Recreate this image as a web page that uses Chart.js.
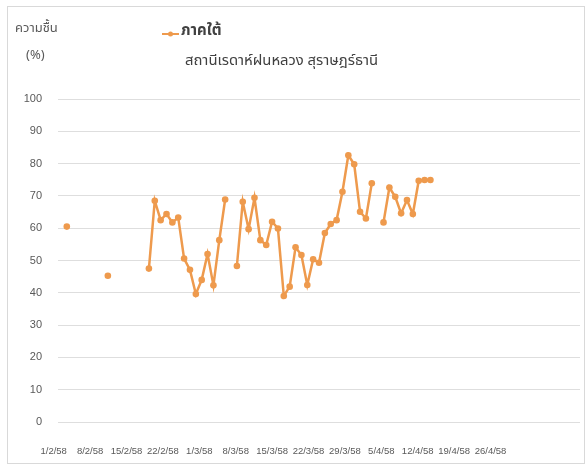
<!DOCTYPE html>
<html lang="th">
<head>
<meta charset="utf-8">
<title>ความชื้น ภาคใต้</title>
<script src="https://cdn.jsdelivr.net/npm/chart.js@4.4.1/dist/chart.umd.min.js"></script>
<style>
  html, body { margin: 0; padding: 0; background: #fff; }
  #wrap { position: relative; width: 588px; height: 468px; overflow: hidden; }
  #frame { position: absolute; left: 7px; top: 6px; width: 578px; height: 458px; border: 1px solid #d9d9d9; box-sizing: border-box; }
  #humidityChart { position: absolute; left: 0; top: 0; }
</style>
</head>
<body>
<div id="wrap">
  <div id="frame"></div>
  <canvas id="humidityChart" width="588" height="468"></canvas>
</div>
<script>
const THAI_FONT = '"Noto Sans Thai", "Noto Sans Thai UI", Loma, Garuda, Tahoma, "Noto Sans", sans-serif';
const LABEL_FONT = '"Liberation Sans", Arial, sans-serif';

const seriesName = 'ภาคใต้';
const chartTitle = 'สถานีเรดาห์ฝนหลวง สุราษฎร์ธานี';
const yCaption = ['ความชื้น', '(%)'];

// ป้ายวันที่บนแกน x (ทุก 7 วัน)
const dateTicks = ['1/2/58', '8/2/58', '15/2/58', '22/2/58', '1/3/58', '8/3/58', '15/3/58',
    '22/3/58', '29/3/58', '5/4/58', '12/4/58', '19/4/58', '26/4/58'];

// ความชื้นรายวัน (%) ตั้งแต่ 31/1/58, null = ไม่มีข้อมูล
const humidity = [
    null,
    60.5, null, null, null, null, null, null,            // 1/2 - 7/2
    45.3, null, null, null, null, null, null,            // 8/2 - 14/2
    47.5, 68.5, 62.5, 64.4, 61.8, 63.3, 50.6,            // 15/2 - 21/2
    47.1, 39.6, 44.0, 52.0, 42.3, 56.3, 68.9,            // 22/2 - 28/2
    null, 48.3, 68.2, 59.7, 69.4, 56.3, 54.8,            // 1/3 - 7/3
    62.0, 59.9, 39.0, 41.9, 54.1, 51.7, 42.4,            // 8/3 - 14/3
    50.4, 49.3, 58.5, 61.3, 62.5, 71.3, 82.6,            // 15/3 - 21/3
    79.8, 65.1, 63.0, 73.9, null, 61.8, 72.6,            // 22/3 - 28/3
    69.7, 64.6, 68.7, 64.4, 74.7, 74.9, 74.9             // 29/3 - 4/4
];

const yTicks = [0, 10, 20, 30, 40, 50, 60, 70, 80, 90, 100];

// ช่วงวันของแกน x: 31/1/58 ถึง 29/4/58
const dayLabels = [];
for (let d = new Date(2015, 0, 31); d <= new Date(2015, 3, 29); d.setDate(d.getDate() + 1)) {
    dayLabels.push(`${d.getDate()}/${d.getMonth() + 1}/58`);
}

const lineColor = '#EE9A4D';
const textColor = '#595959';

const captionPlugin = {
    id: 'captions',
    afterDraw(chart) {
        const ctx = chart.ctx;
        const ds = chart.data.datasets[0];
        ctx.save();
        // แกน y
        ctx.fillStyle = textColor;
        ctx.font = `13px ${THAI_FONT}`;
        ctx.textBaseline = 'middle';
        ctx.textAlign = 'left';
        ctx.fillText(yCaption[0], 15, 29);
        ctx.fillText(yCaption[1], 26, 56);

        // คำอธิบาย
        ctx.strokeStyle = ds.borderColor;
        ctx.lineWidth = 2;
        ctx.beginPath();
        ctx.moveTo(162, 34);
        ctx.lineTo(179, 34);
        ctx.stroke();
        ctx.fillStyle = ds.borderColor;
        ctx.beginPath();
        ctx.arc(170.5, 34, 2.5, 0, Math.PI * 2);
        ctx.fill();
        ctx.fillStyle = '#404040';
        ctx.font = `bold 15px ${THAI_FONT}`;
        ctx.fillText(ds.label, 181, 32);

        // ชื่อสถานี
        ctx.font = `14.8px ${THAI_FONT}`;
        ctx.fillText(chartTitle, 185, 62);
        ctx.restore();
    }
};

new Chart(document.getElementById('humidityChart'), {
    type: 'line',
    data: {
        labels: dayLabels,
        datasets: [{
            label: seriesName,
            data: humidity,
            borderColor: lineColor,
            backgroundColor: lineColor,
            borderWidth: 2.5,
            pointRadius: 3.3,
            pointBorderWidth: 0,
            pointBackgroundColor: lineColor,
            spanGaps: false,
            tension: 0
        }]
    },
    options: {
        responsive: false,
        animation: false,
        devicePixelRatio: 1,
        layout: { padding: { top: 99, right: 8, bottom: 0, left: 0 } },
        plugins: {
            legend: { display: false },
            title: { display: false },
            tooltip: { enabled: false }
        },
        scales: {
            x: {
                type: 'category',
                display: false,
                offset: true
            },
            xDates: {
                type: 'linear',
                position: 'bottom',
                min: 0,
                max: 14.34,
                afterBuildTicks: scale => {
                    scale.ticks = dateTicks.map((_, i) => ({ value: i }));
                },
                afterFit: scale => { scale.height = 46; },
                grid: { display: false, drawTicks: false },
                border: { display: false },
                ticks: {
                    callback: v => dateTicks[v] ?? '',
                    autoSkip: false,
                    maxRotation: 0,
                    labelOffset: -4.3,
                    padding: 24,
                    color: textColor,
                    font: { family: LABEL_FONT, size: 9.5 }
                }
            },
            y: {
                min: 0,
                max: 100,
                afterBuildTicks: scale => {
                    scale.ticks = yTicks.map(v => ({ value: v }));
                },
                afterFit: scale => { scale.width = 58; },
                grid: { color: '#dedede', lineWidth: 1, drawTicks: false },
                border: { display: false },
                ticks: {
                    padding: 16,
                    color: textColor,
                    font: { family: LABEL_FONT, size: 11 }
                }
            }
        }
    },
    plugins: [captionPlugin]
});
</script>
</body>
</html>
